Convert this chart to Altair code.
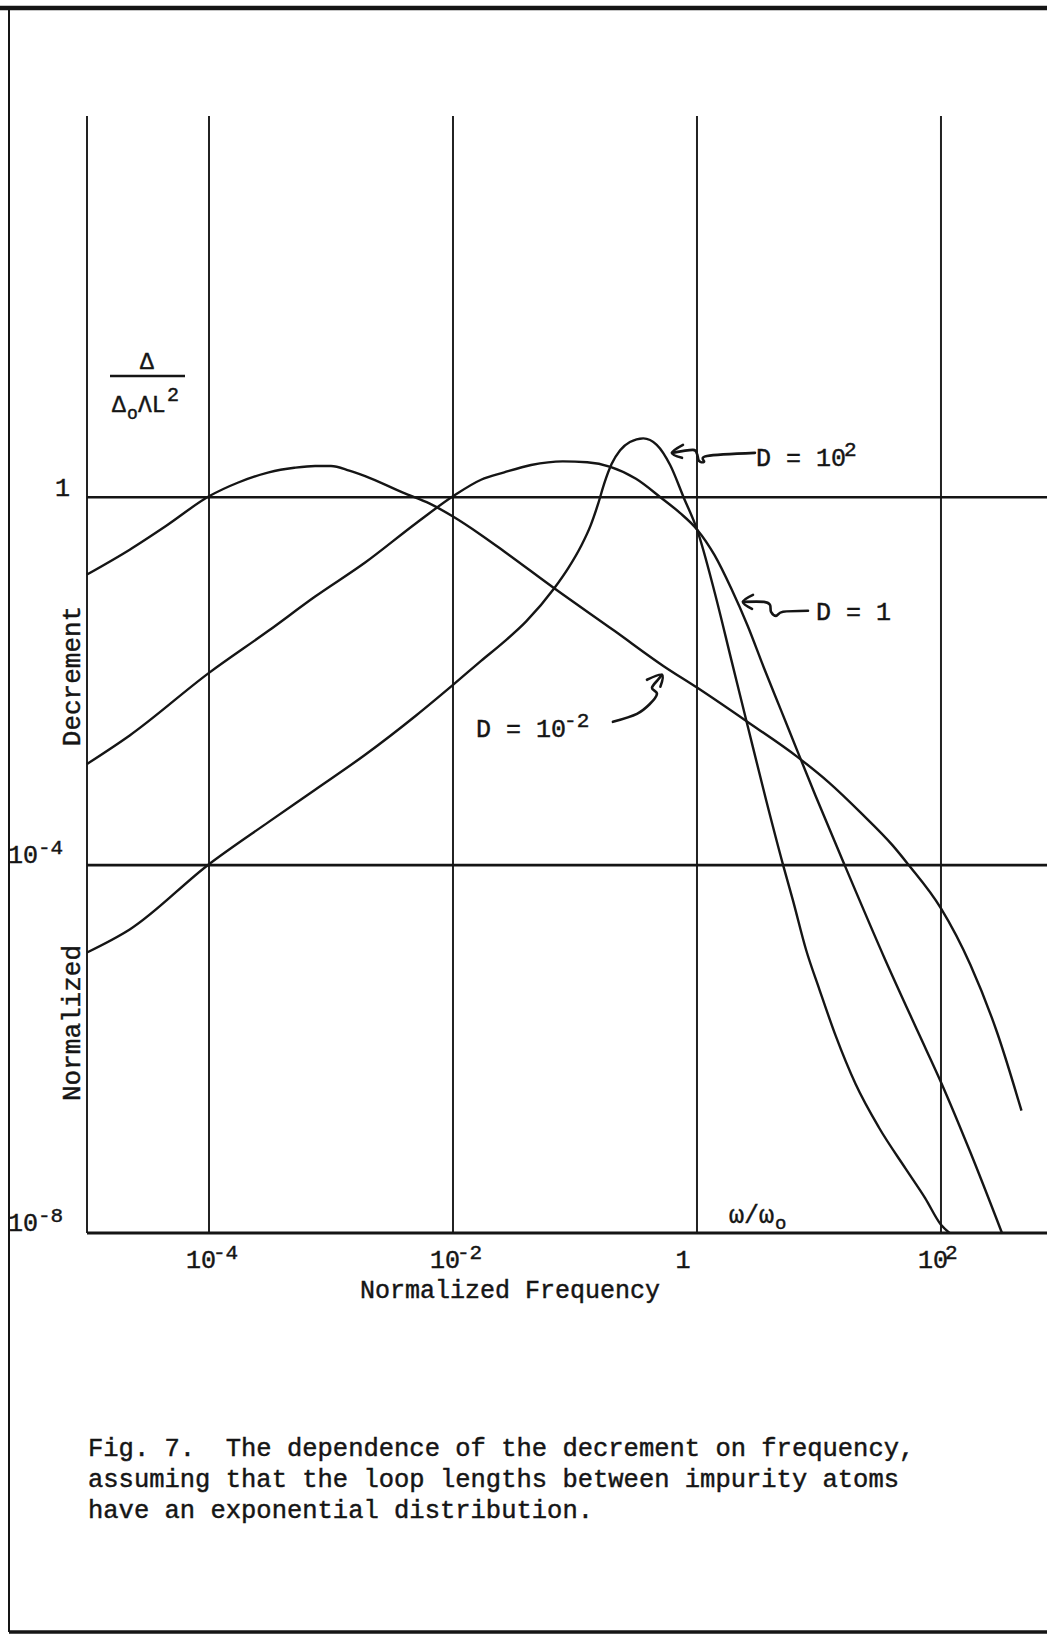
import altair as alt
import pandas as pd

# ---- curve data: log10(omega/omega0) and log10(normalized decrement) ----
D_M2_LOGW = [-5.0, -4.65, -4.35, -4.0, -3.76, -3.51, -3.3, -3.13, -3.0, -2.85, -2.72, -2.41,
             -2.19, -2.0, -1.77, -1.58, -1.17, -0.68, -0.27, 0.0, 0.40, 0.82, 1.08, 1.35,
             1.6, 1.73, 2.0, 2.24, 2.46, 2.66]
D_M2_LOGDEC = [-0.84, -0.57, -0.31, 0.01, 0.16, 0.27, 0.32, 0.34, 0.34, 0.29, 0.23, 0.05,
               -0.07, -0.21, -0.41, -0.59, -0.99, -1.45, -1.84, -2.07, -2.43, -2.82, -3.10, -3.44,
               -3.78, -3.99, -4.47, -5.08, -5.82, -6.67]

D_1_LOGW = [-5.0, -4.65, -4.0, -3.51, -3.13, -2.72, -2.30, -2.0, -1.77, -1.58, -1.36, -1.1,
            -0.9, -0.71, -0.5, -0.30, -0.14, 0.0, 0.144, 0.28, 0.416, 0.55, 0.69, 0.82, 0.97,
            1.22, 1.54, 1.81, 2.0, 2.24, 2.50]
D_1_LOGDEC = [-2.90, -2.59, -1.91, -1.45, -1.08, -0.71, -0.28, 0.01, 0.19, 0.27, 0.35, 0.39,
              0.38, 0.33, 0.20, 0.0, -0.17, -0.35, -0.63, -0.99, -1.40, -1.86, -2.32, -2.75, -3.24,
              -4.03, -5.02, -5.81, -6.36, -7.12, -8.0]

D_P2_LOGW = [-5.0, -4.65, -4.0, -3.51, -3.13, -2.72, -2.30, -2.0, -1.77, -1.58, -1.40, -1.17,
             -1.05, -0.95, -0.87, -0.81, -0.76, -0.70, -0.63, -0.55, -0.44, -0.33, -0.22, -0.11,
             0.0, 0.144, 0.28, 0.416, 0.566, 0.706, 0.786, 0.894, 1.003, 1.138, 1.30, 1.49,
             1.71, 1.87, 2.0, 2.07]
D_P2_LOGDEC = [-4.95, -4.70, -3.99, -3.53, -3.18, -2.80, -2.37, -2.04, -1.78, -1.57, -1.35, -0.99,
               -0.76, -0.53, -0.30, -0.07, 0.15, 0.36, 0.51, 0.60, 0.64, 0.57, 0.35, 0.0,
               -0.35, -1.03, -1.76, -2.49, -3.29, -4.0, -4.38, -4.92, -5.35, -5.86, -6.38, -6.85,
               -7.30, -7.62, -7.91, -8.0]

# ---- grid decades and tick labels ----
X_GRID = [-5, -4, -2, 0, 2]
Y_GRID_MAIN = [0, -4]
Y_GRID_BASE = [-8]
X_TICKS_TEN = [-4, -2, 2]
X_TICKS_TEN_SUP = ["-4", "-2", "2"]
Y_TICKS_TEN = [-4, -8]
Y_TICKS_TEN_SUP = ["-4", "-8"]

# ---- hand-drawn label arrows (log10 coordinates) ----
ARROW_P2_X = [0.475, 0.082, 0.057, 0.016, 0.0, -0.033, -0.205]
ARROW_P2_Y = [0.482, 0.449, 0.384, 0.395, 0.471, 0.515, 0.482]
ARROW_P2_HEAD_X = [-0.115, -0.205, -0.123]
ARROW_P2_HEAD_Y = [0.569, 0.482, 0.428]

ARROW_1_X = [0.910, 0.705, 0.648, 0.607, 0.598, 0.549, 0.377]
ARROW_1_Y = [-1.235, -1.246, -1.290, -1.246, -1.170, -1.138, -1.138]
ARROW_1_HEAD_X = [0.459, 0.377, 0.451]
ARROW_1_HEAD_Y = [-1.062, -1.138, -1.214]

ARROW_M2_X = [-0.689, -0.492, -0.385, -0.328, -0.369, -0.320, -0.287]
ARROW_M2_Y = [-2.442, -2.355, -2.246, -2.138, -2.072, -1.985, -1.931]
ARROW_M2_HEAD_X = [-0.410, -0.287, -0.300]
ARROW_M2_HEAD_Y = [-1.985, -1.931, -2.060]

# label anchors (log10 coordinates, text baseline)
LBL_P2 = (0.484, 0.341)
LBL_1 = (0.975, -1.333)
LBL_M2 = (-1.811, -2.605)

CAPTION = [
    "Fig. 7.\u00a0 The dependence of the decrement on frequency,",
    "assuming that the loop lengths between impurity atoms",
    "have an exponential distribution.",
]

FONT = "Liberation Mono"
INK = "#151515"
FS = 25
FS_SUP = 21

W, H = 960, 1117
xs = alt.Scale(type="log", domain=[1e-5, 10 ** 2.869], nice=False)
ys = alt.Scale(type="log", domain=[1e-8, 10 ** 4.145], nice=False)


def X(f="x"):
    return alt.X(f"{f}:Q", scale=xs, axis=None)


def Y(f="y"):
    return alt.Y(f"{f}:Q", scale=ys, axis=None)


def pts(lx, ly, **extra):
    rows = []
    for i, (a, b) in enumerate(zip(lx, ly)):
        r = {"x": 10 ** a, "y": 10 ** b, "ord": i}
        r.update(extra)
        rows.append(r)
    return rows


one = alt.Data(values=[{}])
layers = []

# page frame
layers.append(alt.Chart(one).mark_rule(color=INK, strokeWidth=4.5).encode(
    x=alt.value(-87), x2=alt.value(W), y=alt.value(-108)))
layers.append(alt.Chart(one).mark_rule(color=INK, strokeWidth=2).encode(
    x=alt.value(-78), y=alt.value(-108), y2=alt.value(1516)))
layers.append(alt.Chart(one).mark_rule(color=INK, strokeWidth=3.5).encode(
    x=alt.value(-78), x2=alt.value(W), y=alt.value(1516)))

# grid lines
vgrid = pd.DataFrame({"x": [10.0 ** d for d in X_GRID]})
layers.append(alt.Chart(vgrid).mark_rule(color="#222222", strokeWidth=2).encode(
    x=X(), y=alt.value(0), y2=alt.value(H)))
hgrid = pd.DataFrame({"y": [10.0 ** d for d in Y_GRID_MAIN]})
layers.append(alt.Chart(hgrid).mark_rule(color=INK, strokeWidth=2.6).encode(
    y=Y(), x=alt.value(0), x2=alt.value(W)))
hbase = pd.DataFrame({"y": [10.0 ** d for d in Y_GRID_BASE]})
layers.append(alt.Chart(hbase).mark_rule(color=INK, strokeWidth=3.2).encode(
    y=Y(), x=alt.value(0), x2=alt.value(W)))

# curves
curves = pd.DataFrame(
    pts(D_M2_LOGW, D_M2_LOGDEC, series="D=1e-2")
    + pts(D_1_LOGW, D_1_LOGDEC, series="D=1")
    + pts(D_P2_LOGW, D_P2_LOGDEC, series="D=1e2")
)
layers.append(alt.Chart(curves).mark_line(color=INK, strokeWidth=2.4, interpolate="monotone").encode(
    x=X(), y=Y(), detail="series:N"))

# arrows
arrows = pd.DataFrame(
    pts(ARROW_P2_X, ARROW_P2_Y, seg="p2")
    + pts(ARROW_P2_HEAD_X, ARROW_P2_HEAD_Y, seg="p2h")
    + pts(ARROW_1_X, ARROW_1_Y, seg="one")
    + pts(ARROW_1_HEAD_X, ARROW_1_HEAD_Y, seg="oneh")
    + pts(ARROW_M2_X, ARROW_M2_Y, seg="m2")
    + pts(ARROW_M2_HEAD_X, ARROW_M2_HEAD_Y, seg="m2h")
)
layers.append(alt.Chart(arrows).mark_line(color=INK, strokeWidth=2.6, interpolate="cardinal",
                                           strokeCap="round", strokeJoin="round").encode(
    x=X(), y=Y(), detail="seg:N", order="ord:Q"))


def txt(df, size=FS, baseline="alphabetic", **kw):
    return alt.Chart(df).mark_text(font=FONT, fontSize=size, color=INK, baseline=baseline,
                                   stroke=INK, strokeWidth=0.45, **kw)


# curve labels
labels = pd.DataFrame([
    {"x": 10 ** LBL_P2[0], "y": 10 ** LBL_P2[1], "t": "D = 10", "s": "2"},
    {"x": 10 ** LBL_1[0], "y": 10 ** LBL_1[1], "t": "D = 1", "s": ""},
    {"x": 10 ** LBL_M2[0], "y": 10 ** LBL_M2[1], "t": "D = 10", "s": "-2"},
])
layers.append(txt(labels, align="left").encode(x=X(), y=Y(), text="t:N"))
layers.append(txt(labels, size=FS_SUP, align="left", dx=88, dy=-10).encode(x=X(), y=Y(), text="s:N"))

# x tick labels
xt = pd.DataFrame({"x": [10.0 ** d for d in X_TICKS_TEN], "s": X_TICKS_TEN_SUP})
layers.append(txt(xt, align="right", dx=7).encode(x=X(), y=alt.value(1152), text=alt.value("10")))
layers.append(txt(xt, size=FS_SUP, align="left", dx=4).encode(x=X(), y=alt.value(1143), text="s:N"))
x_one = pd.DataFrame({"x": [1.0]})
layers.append(txt(x_one, align="center", dx=-14).encode(x=X(), y=alt.value(1152), text=alt.value("1")))

# y tick labels
y_one = pd.DataFrame({"y": [1.0]})
layers.append(txt(y_one, align="right", dy=-1).encode(y=Y(), x=alt.value(-17), text=alt.value("1")))
yt = pd.DataFrame({"y": [10.0 ** d for d in Y_TICKS_TEN], "s": Y_TICKS_TEN_SUP})
layers.append(txt(yt, align="left", dy=-2).encode(y=Y(), x=alt.value(-79), text=alt.value("10")))
layers.append(txt(yt, size=FS_SUP, align="left", dy=-11).encode(y=Y(), x=alt.value(-49), text="s:N"))

# axis titles
layers.append(txt(one, align="center").encode(
    x=alt.value(423), y=alt.value(1182), text=alt.value("Normalized Frequency")))
layers.append(txt(one, align="left").encode(
    x=alt.value(642), y=alt.value(1107), text=alt.value("\u03c9/\u03c9")))
layers.append(txt(one, size=19, align="left").encode(
    x=alt.value(688), y=alt.value(1113), text=alt.value("o")))
layers.append(txt(one, size=26, align="center", angle=270, baseline="middle").encode(
    x=alt.value(-15), y=alt.value(560), text=alt.value("Decrement")))
layers.append(txt(one, size=26, align="center", angle=270, baseline="middle").encode(
    x=alt.value(-15), y=alt.value(907), text=alt.value("Normalized")))

# ordinate quantity as a fraction
layers.append(txt(one, size=23, align="center").encode(
    x=alt.value(60), y=alt.value(253), text=alt.value("\u0394")))
layers.append(alt.Chart(one).mark_rule(color=INK, strokeWidth=2.5).encode(
    x=alt.value(23), x2=alt.value(98), y=alt.value(260)))
layers.append(txt(one, size=23, align="left").encode(
    x=alt.value(25), y=alt.value(296), text=alt.value("\u0394")))
layers.append(txt(one, size=18, align="left").encode(
    x=alt.value(40), y=alt.value(303), text=alt.value("o")))
layers.append(txt(one, size=23, align="left").encode(
    x=alt.value(51), y=alt.value(296), text=alt.value("\u039bL")))
layers.append(txt(one, size=20, align="left").encode(
    x=alt.value(80), y=alt.value(285), text=alt.value("2")))

# caption
for i, line in enumerate(CAPTION):
    layers.append(txt(one, size=25.5, align="left").encode(
        x=alt.value(1), y=alt.value(1340 + 31 * i), text=alt.value(line)))

chart = alt.layer(*layers).properties(
    width=W,
    height=H,
    padding={"left": 87, "top": 116, "right": 0, "bottom": 404},
    autosize=alt.AutoSizeParams(type="none"),
    background="white",
).configure_view(stroke=None)

chart.save("out.html", embed_options={"renderer": "svg", "actions": False})
